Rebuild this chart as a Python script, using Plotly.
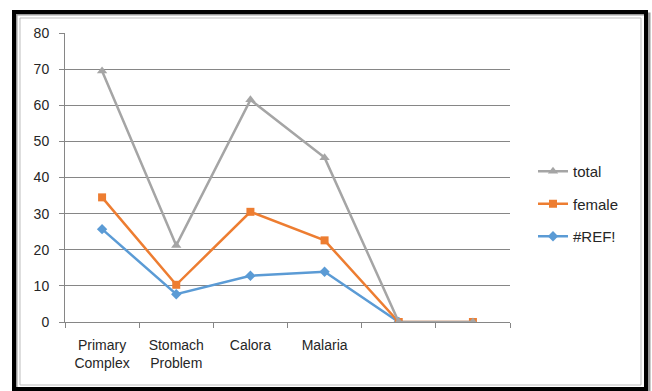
import plotly.graph_objects as go

categories = ["Primary Complex", "Stomach Problem", "Calora", "Malaria", "c5", "c6"]
tick_labels = ["Primary<br>Complex", "Stomach<br>Problem", "Calora", "Malaria", "", ""]
total = [69.5, 21.2, 61.5, 45.5, 0, 0]
female = [34.5, 10.3, 30.5, 22.6, 0, 0]
ref = [25.7, 7.7, 12.8, 13.9, 0, None]

W, H = 652, 391
L, R, T, B = 65, 510, 33, 322

def px(x):
    return (x - L) / (R - L)

def py(y):
    return (B - y) / (B - T)

fig = go.Figure()
fig.add_trace(go.Scatter(x=categories, y=ref, name="#REF!", mode="lines+markers",
                         line=dict(color="#5B9BD5", width=2.5),
                         marker=dict(symbol="diamond", size=8, color="#5B9BD5"),
                         legendgroup="c", legendrank=3, connectgaps=False))
fig.add_trace(go.Scatter(x=categories, y=female, name="female", mode="lines+markers",
                         line=dict(color="#ED7D31", width=2.5),
                         marker=dict(symbol="square", size=8, color="#ED7D31"),
                         legendgroup="b", legendrank=2))
fig.add_trace(go.Scatter(x=categories, y=total, name="total", mode="lines+markers",
                         line=dict(color="#A5A5A5", width=2.5),
                         marker=dict(symbol="triangle-up", size=9, color="#A5A5A5"),
                         legendgroup="a", legendrank=1))

shapes = [
    dict(type="rect", xref="paper", yref="paper",
         x0=px(16), x1=px(649), y0=py(392), y1=py(14),
         line=dict(color="#9a9a9a", width=3), layer="below"),
    dict(type="rect", xref="paper", yref="paper",
         x0=px(14), x1=px(646), y0=py(389), y1=py(12),
         line=dict(color="black", width=4), layer="below"),
    dict(type="rect", xref="paper", yref="paper",
         x0=px(20), x1=px(641), y0=py(385), y1=py(18),
         line=dict(color="#bdbdbd", width=1), layer="below"),
]

fig.update_layout(
    width=W, height=H,
    margin=dict(l=L, r=W - R, t=T, b=H - B),
    paper_bgcolor="white", plot_bgcolor="white",
    font=dict(family="Liberation Sans", size=14, color="#262626"),
    showlegend=True,
    legend=dict(x=px(533), y=py(155), xanchor="left", yanchor="top",
                traceorder="grouped", tracegroupgap=10,
                font=dict(size=15, color="#262626"), bgcolor="rgba(0,0,0,0)"),
    shapes=shapes,
    xaxis=dict(type="category", categoryorder="array", categoryarray=categories,
               tickvals=categories, ticktext=tick_labels, tickson="boundaries",
               ticks="outside", ticklen=5, tickcolor="#868686",
               showline=True, linecolor="#868686", linewidth=1,
               showgrid=False, zeroline=False, range=[-0.5, 5.5],
               ticklabelstandoff=10),
    yaxis=dict(range=[0, 80], dtick=10, ticks="outside", ticklen=5, tickcolor="#868686",
               showline=True, linecolor="#868686", linewidth=1,
               showgrid=True, gridcolor="#868686", gridwidth=1, zeroline=False,
               ticklabelstandoff=7),
)

fig.write_html("out.html", config={"displayModeBar": False},
               post_script="document.body.style.margin='0';document.body.style.overflow='hidden';")
